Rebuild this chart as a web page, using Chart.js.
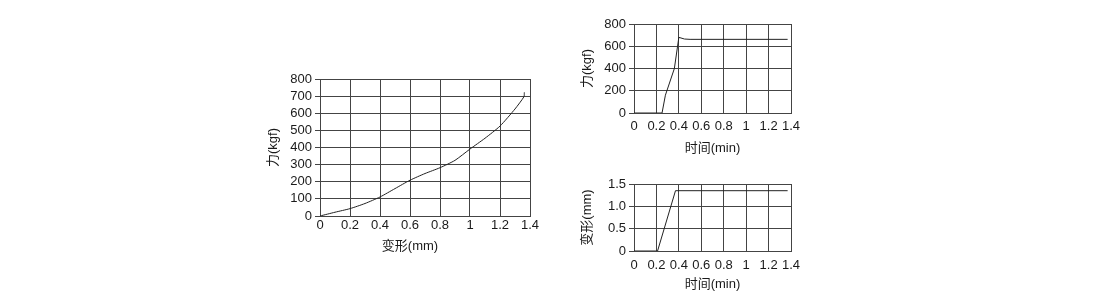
<!DOCTYPE html>
<html>
<head>
<meta charset="utf-8">
<script src="https://cdn.jsdelivr.net/npm/chart.js@4/dist/chart.umd.min.js"></script>
<style>
  body { margin: 0; background: #fff; }
  #wrap { position: relative; width: 1110px; height: 303px; overflow: hidden; }
  canvas { position: absolute; }
</style>
</head>
<body>
<div id="wrap">
  <canvas id="defChart" style="left:260px;top:55px;width:300px;height:220px" width="300" height="220"></canvas>
  <canvas id="forceTimeChart" style="left:570px;top:0px;width:240px;height:160px" width="240" height="160"></canvas>
  <canvas id="defTimeChart" style="left:570px;top:165px;width:240px;height:138px" width="240" height="138"></canvas>
</div>
<script>
// Force vs deformation
const deformation = [0, 0.1, 0.2, 0.3, 0.4, 0.5, 0.6, 0.7, 0.8, 0.9, 1.0, 1.1, 1.2, 1.3, 1.36, 1.362];
const forceByDef = [0, 22, 43, 73, 111, 160, 209, 248, 282, 325, 391, 454, 525, 625, 697, 722];

// Force vs time
const timeForce = [0, 0.25, 0.28, 0.36, 0.4, 0.45, 0.5, 1.37];
const forceByTime = [0, 0, 160, 400, 680, 665, 662, 662];

// Deformation vs time
const timeDef = [0, 0.21, 0.37, 1.37];
const defByTime = [0, 0, 1.35, 1.35];

// Tick settings
const timeTicks = { min: 0, max: 1.4, step: 0.2 };
const defTicks = { min: 0, max: 1.4, step: 0.2 };

const FONT = "'Liberation Sans', Arial, 'Noto Sans CJK SC', sans-serif";
const FS = 13;
const GRID = '#444';
const LINE = '#222';

Chart.defaults.font.family = FONT;
Chart.defaults.font.size = FS;
Chart.defaults.color = '#1a1a1a';

function toPoints(xs, ys) {
  return xs.map((x, i) => ({ x: x, y: ys[i] }));
}

function plainNum(v) {
  return String(Number(v.toFixed(2)));
}

// Draws an x axis title with a horizontal shift
const shiftedTitle = {
  id: 'shiftedTitle',
  afterDraw(chart, args, opts) {
    if (!opts || !opts.text) return;
    const xs = chart.scales.x;
    const ctx = chart.ctx;
    ctx.save();
    ctx.font = FS + 'px ' + FONT;
    ctx.fillStyle = '#1a1a1a';
    ctx.textAlign = 'center';
    ctx.textBaseline = 'middle';
    ctx.fillText(opts.text, (xs.left + xs.right) / 2 + opts.dx, xs.bottom - 4 - FS * 0.6);
    ctx.restore();
  },
};

function makeChart(id, xs, ys, o) {
  const ctx = document.getElementById(id);
  return new Chart(ctx, {
    type: 'scatter',
    data: {
      datasets: [{
        data: toPoints(xs, ys),
        showLine: true,
        borderColor: LINE,
        borderWidth: 1,
        pointRadius: 0,
        tension: o.tension || 0,
      }],
    },
    options: {
      responsive: false,
      animation: false,
      events: [],
      layout: { padding: o.padding },
      plugins: {
        legend: { display: false },
        tooltip: { enabled: false },
        shiftedTitle: o.shifted || {},
      },
      scales: {
        x: {
          type: 'linear',
          min: o.x.min,
          max: o.x.max,
          grid: { color: GRID, lineWidth: 1, drawTicks: false },
          border: { color: GRID, width: 1 },
          ticks: { stepSize: o.x.step, padding: o.xPad, maxRotation: 0, autoSkip: false, callback: plainNum },
          title: { display: !o.shifted, text: o.xTitle, padding: 4 },
          afterFit: (s) => { s.height = o.xHeight; },
        },
        y: {
          type: 'linear',
          min: o.y.min,
          max: o.y.max,
          grid: { color: GRID, lineWidth: 1, drawTicks: true, tickLength: 5 },
          border: { color: GRID, width: 1 },
          ticks: { stepSize: o.y.step, padding: 3, autoSkip: false, callback: o.yFormat || plainNum },
          title: { display: true, text: o.yTitle, padding: 4 },
          afterFit: (s) => { s.width = o.yWidth; },
        },
      },
    },
    plugins: [shiftedTitle],
  });
}

makeChart('defChart', deformation, forceByDef, {
  tension: 0.2,
  padding: { left: 2, top: 24, right: 30, bottom: 17 },
  x: defTicks,
  y: { min: 0, max: 800, step: 100 },
  xTitle: '变形(mm)',
  yTitle: '力(kgf)',
  shifted: { text: '变形(mm)', dx: -15 },
  xPad: 2,
  xHeight: 42,
  yWidth: 58,
});

makeChart('forceTimeChart', timeForce, forceByTime, {
  padding: { left: 6, top: 24, right: 19, bottom: 0 },
  x: timeTicks,
  y: { min: 0, max: 800, step: 200 },
  xTitle: '时间(min)',
  yTitle: '力(kgf)',
  xPad: 6,
  xHeight: 47,
  yWidth: 58,
});

makeChart('defTimeChart', timeDef, defByTime, {
  padding: { left: 6, top: 19, right: 19, bottom: 7 },
  x: timeTicks,
  y: { min: 0, max: 1.5, step: 0.5 },
  yFormat: (v) => (v === 0 ? '0' : v.toFixed(1)),
  xTitle: '时间(min)',
  yTitle: '变形(mm)',
  xPad: 7,
  xHeight: 45,
  yWidth: 58,
});
</script>
</body>
</html>
